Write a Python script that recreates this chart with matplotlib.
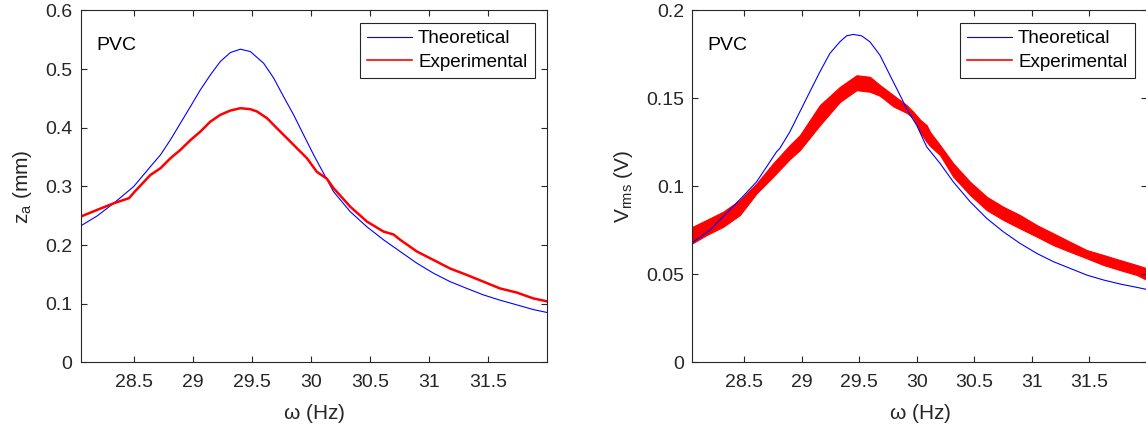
import matplotlib
matplotlib.use("Agg")
from matplotlib import pyplot as plt
from matplotlib.lines import Line2D
from matplotlib.ticker import FuncFormatter

plt.rcParams["font.family"] = ["Liberation Sans", "DejaVu Sans"]
plt.rcParams["mathtext.default"] = "regular"

# left panel: displacement amplitude z_a (mm)
za_theo_freq = [28.05, 28.19, 28.33, 28.5, 28.641, 28.726, 28.81, 28.895, 28.98,
                29.064, 29.149, 29.233, 29.318, 29.403, 29.487, 29.60, 29.684,
                29.769, 29.854, 29.938, 30.023, 30.107, 30.192, 30.333, 30.475,
                30.615, 30.756, 30.898, 31.038, 31.179, 31.321, 31.461, 31.602,
                31.744, 31.884, 32.0]
za_theo = [0.2326, 0.2497, 0.2713, 0.300, 0.3338, 0.3538, 0.3794, 0.4078, 0.4362,
           0.4647, 0.4903, 0.513, 0.5283, 0.534, 0.530, 0.510, 0.485,
           0.453, 0.422, 0.388, 0.354, 0.3225, 0.291, 0.257, 0.231,
           0.209, 0.189, 0.169, 0.152, 0.1376, 0.126, 0.115, 0.106,
           0.098, 0.090, 0.085]

za_exp_freq = [28.05, 28.19, 28.331, 28.416, 28.46, 28.5, 28.641, 28.726, 28.81,
               28.895, 28.98, 29.064, 29.149, 29.233, 29.318, 29.403, 29.487,
               29.544, 29.628, 29.713, 29.798, 29.882, 29.967, 30.05, 30.136,
               30.192, 30.333, 30.475, 30.615, 30.70, 30.756, 30.898, 31.038,
               31.179, 31.321, 31.461, 31.602, 31.744, 31.884, 32.0]
za_exp = [0.2485, 0.260, 0.2713, 0.277, 0.280, 0.2894, 0.3196, 0.331, 0.348,
          0.3623, 0.379, 0.3935, 0.4106, 0.422, 0.4294, 0.4334, 0.4317,
          0.4277, 0.4164, 0.399, 0.382, 0.365, 0.348, 0.325, 0.313,
          0.297, 0.2655, 0.240, 0.223, 0.218, 0.209, 0.189, 0.1746,
          0.160, 0.149, 0.1376, 0.126, 0.119, 0.109, 0.104]

# right panel: output voltage V_rms (V)
v_theo_freq = [28.05, 28.2, 28.35, 28.5, 28.608, 28.695, 28.782, 28.81, 28.897,
               28.984, 29.071, 29.158, 29.245, 29.332, 29.39, 29.448, 29.521,
               29.593, 29.68, 29.767, 29.854, 29.926, 29.999, 30.086, 30.202,
               30.317, 30.463, 30.608, 30.752, 30.897, 31.043, 31.187, 31.332,
               31.477, 31.622, 31.767, 31.912, 32.0]
v_theo = [0.068, 0.075, 0.085, 0.095, 0.1026, 0.1111, 0.1197, 0.1216, 0.131,
          0.1424, 0.1538, 0.1651, 0.1756, 0.1822, 0.1856, 0.1864, 0.1856,
          0.1822, 0.1746, 0.1632, 0.1519, 0.1424, 0.1348, 0.1225, 0.1131,
          0.1026, 0.0913, 0.0818, 0.0742, 0.0676, 0.0619, 0.0572, 0.0534,
          0.0496, 0.0468, 0.0445, 0.0426, 0.0414]

v_exp_freq = [28.05, 28.173, 28.317, 28.463, 28.608, 28.752, 28.897, 28.984,
              29.158, 29.332, 29.477, 29.593, 29.68, 29.796, 29.912, 29.97,
              30.028, 30.086, 30.115, 30.202, 30.317, 30.463, 30.608, 30.752,
              30.897, 31.043, 31.187, 31.332, 31.477, 31.622, 31.767, 31.912,
              32.0]
v_exp_upper = [0.077, 0.0809, 0.0856, 0.0922, 0.1017, 0.1131, 0.1235, 0.1291,
               0.1462, 0.1566, 0.1632, 0.1623, 0.1576, 0.1519, 0.1462, 0.1424,
               0.138, 0.1348, 0.131, 0.1235, 0.1131, 0.1026, 0.0941, 0.0884,
               0.0837, 0.078, 0.0733, 0.0685, 0.0638, 0.061, 0.0581, 0.0553,
               0.0534]
v_exp_lower = [0.0676, 0.0723, 0.077, 0.0837, 0.096, 0.1055, 0.1155, 0.1206,
               0.1348, 0.148, 0.1547, 0.1538, 0.1515, 0.1455, 0.1418, 0.139,
               0.131, 0.1253, 0.123, 0.1178, 0.1055, 0.0951, 0.0865, 0.0809,
               0.0761, 0.0714, 0.0666, 0.0628, 0.0591, 0.0553, 0.0524, 0.0496,
               0.0468]

x_ticks = [28.5, 29, 29.5, 30, 30.5, 31, 31.5]
za_ticks = [0, 0.1, 0.2, 0.3, 0.4, 0.5, 0.6]
v_ticks = [0, 0.05, 0.1, 0.15, 0.2]

axis_color = (0.15, 0.15, 0.15)
blue = (0.0, 0.0, 1.0)
red = (1.0, 0.0, 0.0)

fig = plt.figure(figsize=(11.46, 4.32), dpi=100)
ax1 = fig.add_axes([0.0704, 0.1613, 0.4069, 0.8144])
ax2 = fig.add_axes([0.6041, 0.1613, 0.3968, 0.8144])

ax1.plot(za_theo_freq, za_theo, color=blue, lw=0.8)
ax1.plot(za_exp_freq, za_exp, color=red, lw=1.8)

ax2.plot(v_theo_freq, v_theo, color=blue, lw=0.8)
ax2.fill_between(v_exp_freq, v_exp_lower, v_exp_upper, color=red, lw=0.8,
                 edgecolor=red)

for ax, yt, ylabel in [(ax1, za_ticks, "z$_a$ (mm)"), (ax2, v_ticks, "V$_{rms}$ (V)")]:
    ax.set_xlim(28.05, 32.0)
    ax.set_ylim(yt[0], yt[-1])
    ax.set_xticks(x_ticks)
    ax.set_yticks(yt)
    fmt = FuncFormatter(lambda v, p: f"{v:g}")
    ax.xaxis.set_major_formatter(fmt)
    ax.yaxis.set_major_formatter(fmt)
    ax.tick_params(direction="in", top=True, right=True, length=4.5, width=0.8,
                   colors=axis_color, labelcolor=axis_color, labelsize=14)
    ax.tick_params(axis="x", pad=8.5)
    ax.tick_params(axis="y", pad=6)
    for s in ax.spines.values():
        s.set_color(axis_color)
        s.set_linewidth(0.8)
    ax.set_xlabel(r"$\omega$ (Hz)", fontsize=15, color=axis_color, labelpad=8)
    ax.set_ylabel(ylabel, fontsize=15, color=axis_color, labelpad=8)
    ax.text(28.18, yt[-1] * 0.9, "PVC", fontsize=14, ha="left", va="center")
    handles = [Line2D([], [], color=blue, lw=0.8),
               Line2D([], [], color=red, lw=1.2)]
    leg = ax.legend(handles, ["Theoretical", "Experimental"], loc="upper right",
                    fontsize=13.5, fancybox=False, framealpha=1, borderaxespad=0.65,
                    handlelength=2.4, handletextpad=0.3, borderpad=0.4,
                    labelspacing=0.35)
    leg.get_frame().set_edgecolor(axis_color)
    leg.get_frame().set_linewidth(0.8)

plt.savefig("out.png", dpi=100)
